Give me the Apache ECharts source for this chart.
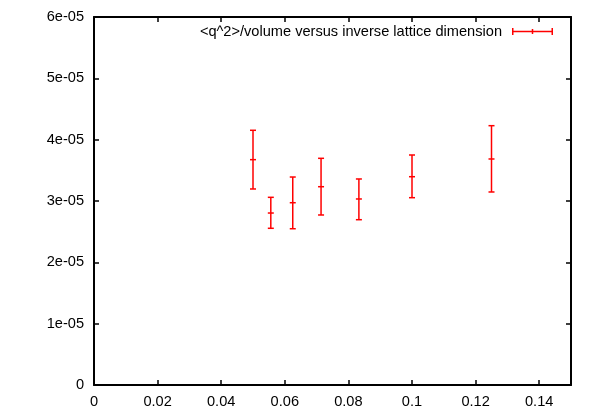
<!DOCTYPE html>
<html>
<head>
<meta charset="utf-8">
<script src="https://cdn.jsdelivr.net/npm/echarts@6/dist/echarts.min.js"></script>
<style>html,body{margin:0;padding:0;background:#fff}#c{width:593px;height:415px}</style>
</head>
<body>
<div id="c"></div>
<script>
const seriesName = '<q^2>/volume versus inverse lattice dimension';
const xValues = [0.05, 0.0556, 0.0625, 0.0714, 0.0833, 0.1, 0.125];
const yValues = [3.674e-5, 2.804e-5, 2.972e-5, 3.233e-5, 3.033e-5, 3.396e-5, 3.685e-5];
const yLow    = [3.196e-5, 2.555e-5, 2.548e-5, 2.772e-5, 2.695e-5, 3.054e-5, 3.147e-5];
const yHigh   = [4.153e-5, 3.060e-5, 3.391e-5, 3.696e-5, 3.359e-5, 3.750e-5, 4.228e-5];
const xTicks = { min: 0, max: 0.15, interval: 0.02 };
const yTicks = { min: 0, max: 6e-5, interval: 1e-5 };

const data = xValues.map((x, i) => [x, yValues[i], yLow[i], yHigh[i]]);
const FONT = 'Liberation Sans';
const FS = 14.6;
const chart = echarts.init(document.getElementById('c'), null, {renderer: 'canvas'});

function xFmt(v) { return v === 0 ? '0' : String(parseFloat(v.toFixed(2))); }
function yFmt(v) { return v === 0 ? '0' : Math.round(v / 1e-5) + 'e-05'; }

const axisCommon = {
  axisLine: {show: true, onZero: false, lineStyle: {color: '#000', width: 2}},
  axisTick: {show: true, inside: true, length: 5, lineStyle: {color: '#000', width: 1.5}},
  splitLine: {show: false}
};

chart.setOption({
  animation: false,
  backgroundColor: '#fff',
  grid: {left: 94, right: 22, top: 17, bottom: 30, containLabel: false},
  legend: {
    show: true,
    right: 35, top: 19,
    align: 'right',
    itemWidth: 41, itemHeight: 8,
    icon: 'path://M0,3.25 L41,3.25 L41,4.75 L0,4.75 Z M0,0.5 L1.5,0.5 L1.5,7.5 L0,7.5 Z M19.75,1.5 L21.25,1.5 L21.25,6.5 L19.75,6.5 Z M39.5,0.5 L41,0.5 L41,7.5 L39.5,7.5 Z',
    textStyle: {fontFamily: FONT, fontSize: FS, color: '#000', padding: [0, 5, 0, 0]},
    data: [seriesName]
  },
  xAxis: [
    Object.assign({type: 'value', position: 'bottom', min: xTicks.min, max: xTicks.max, interval: xTicks.interval,
      axisLabel: {formatter: xFmt, showMaxLabel: false, fontFamily: FONT, fontSize: FS, color: '#000', margin: 9}}, axisCommon),
    Object.assign({type: 'value', position: 'top', min: xTicks.min, max: xTicks.max, interval: xTicks.interval,
      axisLabel: {show: false}}, axisCommon)
  ],
  yAxis: [
    Object.assign({type: 'value', position: 'left', min: yTicks.min, max: yTicks.max, interval: yTicks.interval,
      axisLabel: {formatter: yFmt, fontFamily: FONT, fontSize: FS, color: '#000', margin: 10}}, axisCommon),
    Object.assign({type: 'value', position: 'right', min: yTicks.min, max: yTicks.max, interval: yTicks.interval,
      axisLabel: {show: false}}, axisCommon)
  ],
  series: [{
    name: seriesName,
    type: 'custom',
    xAxisIndex: 0, yAxisIndex: 0,
    itemStyle: {color: '#ff0000'},
    encode: {x: 0, y: [1, 2, 3]},
    data: data,
    renderItem: function (params, api) {
      const x = api.value(0);
      const pc = api.coord([x, api.value(1)]);
      const pl = api.coord([x, api.value(2)]);
      const ph = api.coord([x, api.value(3)]);
      const hw = 3;
      const st = {stroke: '#ff0000', lineWidth: 1.5};
      return {
        type: 'group',
        children: [
          {type: 'line', shape: {x1: pc[0], y1: pl[1], x2: pc[0], y2: ph[1]}, style: st},
          {type: 'line', shape: {x1: pc[0] - hw, y1: pl[1], x2: pc[0] + hw, y2: pl[1]}, style: st},
          {type: 'line', shape: {x1: pc[0] - hw, y1: ph[1], x2: pc[0] + hw, y2: ph[1]}, style: st},
          {type: 'line', shape: {x1: pc[0] - hw, y1: pc[1], x2: pc[0] + hw, y2: pc[1]}, style: st}
        ]
      };
    }
  }]
});
</script>
</body>
</html>
